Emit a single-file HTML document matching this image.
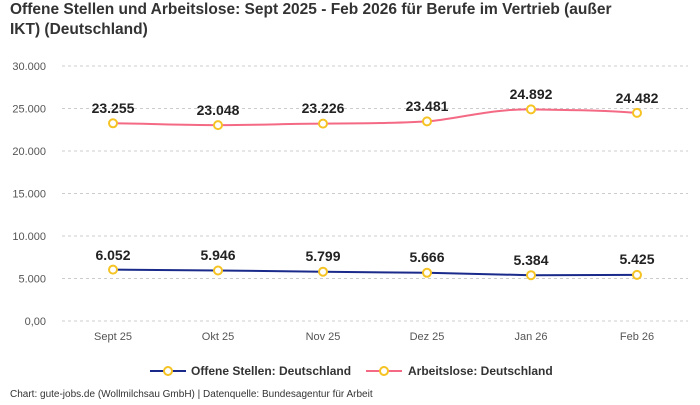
<!DOCTYPE html>
<html><head><meta charset="utf-8"><style>
body{margin:0;background:#fff;width:700px;height:400px;overflow:hidden;font-family:"Liberation Sans",sans-serif}
</style></head><body>
<svg width="700" height="400" xmlns="http://www.w3.org/2000/svg" font-family="Liberation Sans, sans-serif">
<text x="10" y="14" font-size="15.5" font-weight="bold" fill="#333">Offene Stellen und Arbeitslose: Sept 2025 - Feb 2026 für Berufe im Vertrieb (außer</text>
<text x="10" y="34" font-size="15.5" font-weight="bold" fill="#333">IKT) (Deutschland)</text>
<g stroke="#ccc" stroke-dasharray="3,3" stroke-width="1">
<line x1="62" x2="688" y1="66" y2="66"/><line x1="62" x2="688" y1="108.5" y2="108.5"/>
<line x1="62" x2="688" y1="151" y2="151"/><line x1="62" x2="688" y1="193.5" y2="193.5"/>
<line x1="62" x2="688" y1="236" y2="236"/><line x1="62" x2="688" y1="278.5" y2="278.5"/>
<line x1="62" x2="688" y1="321" y2="321"/>
</g>
<g font-size="11" fill="#555" text-anchor="end">
<text x="46" y="70">30.000</text><text x="46" y="112.5">25.000</text><text x="46" y="155">20.000</text>
<text x="46" y="197.5">15.000</text><text x="46" y="240">10.000</text><text x="46" y="282.5">5.000</text><text x="46" y="325">0,00</text>
</g>
<g font-size="11" fill="#555" text-anchor="middle">
<text x="113" y="340">Sept 25</text><text x="218" y="340">Okt 25</text><text x="323" y="340">Nov 25</text>
<text x="427" y="340">Dez 25</text><text x="531" y="340">Jan 26</text><text x="637" y="340">Feb 26</text>
</g>
<path d="M113,123.3 C160,124 180,125 218,125.1 S290,123.6 323,123.6 S400,123 427,121.4 S490,108.7 531,109.4 S600,110 637,112.9" fill="none" stroke="#f46a85" stroke-width="2"/>
<polyline points="113,269.6 218,270.5 323,271.7 427,272.8 531,275.2 637,274.9" fill="none" stroke="#1a2a8a" stroke-width="2"/>
<g fill="#fff" stroke="#f5c324" stroke-width="2">
<circle cx="113" cy="123.3" r="4"/><circle cx="218" cy="125.1" r="4"/><circle cx="323" cy="123.6" r="4"/>
<circle cx="427" cy="121.4" r="4"/><circle cx="531" cy="109.4" r="4"/><circle cx="637" cy="112.9" r="4"/>
<circle cx="113" cy="269.6" r="4"/><circle cx="218" cy="270.5" r="4"/><circle cx="323" cy="271.7" r="4"/>
<circle cx="427" cy="272.8" r="4"/><circle cx="531" cy="275.2" r="4"/><circle cx="637" cy="274.9" r="4"/>
</g>
<g font-size="14" font-weight="bold" fill="#222" text-anchor="middle">
<text x="113" y="113">23.255</text><text x="218" y="115">23.048</text><text x="323" y="113">23.226</text>
<text x="427" y="111">23.481</text><text x="531" y="99">24.892</text><text x="637" y="103">24.482</text>
<text x="113" y="260">6.052</text><text x="218" y="260">5.946</text><text x="323" y="261">5.799</text>
<text x="427" y="262">5.666</text><text x="531" y="265">5.384</text><text x="637" y="264">5.425</text>
</g>
<line x1="150" x2="186" y1="371" y2="371" stroke="#1a2a8a" stroke-width="2"/>
<circle cx="168" cy="371" r="4" fill="#fff" stroke="#f5c324" stroke-width="2"/>
<text x="191" y="375" font-size="12" font-weight="bold" fill="#333">Offene Stellen: Deutschland</text>
<line x1="366" x2="402" y1="371" y2="371" stroke="#f46a85" stroke-width="2"/>
<circle cx="384" cy="371" r="4" fill="#fff" stroke="#f5c324" stroke-width="2"/>
<text x="408" y="375" font-size="12" font-weight="bold" fill="#333">Arbeitslose: Deutschland</text>
<text x="10" y="397" font-size="10" fill="#333">Chart: gute-jobs.de (Wollmilchsau GmbH) | Datenquelle: Bundesagentur für Arbeit</text>
</svg>
</body></html>
